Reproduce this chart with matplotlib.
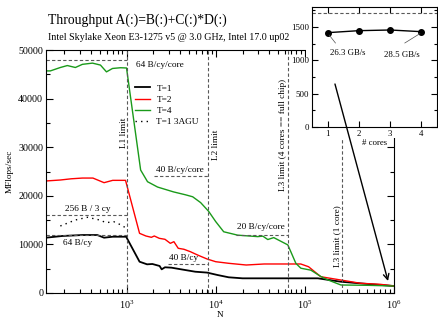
import numpy as np
import matplotlib
matplotlib.use("Agg")
import matplotlib.pyplot as plt
from matplotlib.patches import Rectangle
from matplotlib.ticker import LogLocator, MultipleLocator

plt.rcParams['font.family'] = ['Liberation Serif', 'DejaVu Serif']
plt.rcParams['mathtext.fontset'] = 'custom'
plt.rcParams['mathtext.rm'] = 'Liberation Serif'
plt.rcParams['mathtext.it'] = 'Liberation Serif:italic'

# vector length N and MFlops/sec for each thread count
n_t4 = [125, 140, 181, 217, 267, 320, 415, 510, 596, 696, 857, 1000, 1440, 1720,
        2230, 3370, 4600, 5520, 6780, 8340, 10000, 12300, 17660, 29600, 33800,
        38400, 44800, 64400, 69600, 79300, 90200, 116800, 151000, 181000,
        253600, 510000, 1000000]
mf_t4 = [45700, 45700, 46400, 46800, 46400, 47050, 47300, 46900, 45500, 46200,
         46350, 46300, 25300, 22900, 21800, 20800, 20200, 19800, 18600, 16800,
         14700, 12600, 11900, 11600, 11700, 11000, 11400, 9900, 8500, 6100,
         5100, 4700, 3400, 2700, 1650, 1580, 1440]

n_t2 = [125, 181, 240, 320, 420, 560, 700, 975, 1400, 1650, 1900, 2050, 2330,
        2700, 3100, 3400, 3800, 4400, 5200, 6300, 8000, 10000, 14000, 22000,
        35000, 38000, 65000, 90000, 110000, 151000, 253600, 420000, 700000,
        1000000]
mf_t2 = [23050, 23250, 23500, 23650, 23650, 22700, 23180, 23180, 12280, 11730,
         11460, 11730, 11250, 11050, 10220, 10560, 9200, 9000, 8500, 7800, 7000,
         6440, 6110, 5760, 5970, 5970, 5970, 5970, 5410, 3350, 2670, 2000,
         1790, 1440]

n_t1 = [125, 190, 320, 470, 560, 700, 990, 1400, 1700, 1950, 2350, 2480, 2700,
        3200, 4100, 5900, 8000, 10500, 14000, 20000, 50000, 100000, 140000,
        253600, 510000, 1000000]
mf_t1 = [11380, 11730, 11930, 11930, 11380, 11580, 11580, 6440, 5900, 5970,
         5560, 4870, 5290, 5210, 4870, 4380, 4200, 3700, 3230, 3020, 3020,
         3020, 3020, 2320, 1850, 1440]

n_agu = [181, 267, 365, 500, 590, 720, 870, 1000]
mf_agu = [13790, 15020, 15580, 15020, 14470, 14670, 13990, 13300]

# inset: memory-bound performance vs. number of cores
cores = [1, 2, 3, 4]
mf_mem = [1415, 1445, 1455, 1430]

# cache size limits in N
l1_limit = 1024
l2_limit = 8192
l3_full = 65536
l3_core = 262144

fig = plt.figure(figsize=(4.38, 3.2), dpi=100)
W, H = 438, 320

ax = fig.add_axes([46 / W, (H - 293) / H, (394 - 46) / W, (293 - 50) / H])
ax.set_zorder(1)

ax.plot(n_t1, mf_t1, color='black', lw=1.3, label='T=1')
ax.plot(n_t2, mf_t2, color='#ff0000', lw=1.0, label='T=2')
ax.plot(n_t4, mf_t4, color='#1a9a1a', lw=1.0, label='T=4')
ax.plot(n_agu, mf_agu, color='black', lw=1.0, ls=(0, (1, 3)), label='T=1 3AGU')

ax.set_xscale('log')
ax.set_xlim(125, 1e6)
ax.set_ylim(0, 50000)

dash = dict(color='0.35', lw=0.8, ls=(0, (3, 2)))
ax.axvline(l1_limit, **dash)
ax.axvline(l2_limit, **dash)
ax.axvline(l3_full, **dash)
ax.plot([l3_core, l3_core], [0, 33500], **dash)

ax.plot([125, l1_limit], [48000, 48000], **dash)
ax.plot([125, l1_limit], [16000, 16000], **dash)
ax.plot([125, l1_limit], [12000, 12000], **dash)
ax.plot([2010, l2_limit], [24000, 24000], **dash)
ax.plot([2890, l2_limit], [6000, 6000], **dash)
ax.plot([16800, l3_full], [12000, 12000], **dash)

fs = 6.7
ax.text(1262, 46900, '64 B/cy/core', fontsize=fs, va='center')
ax.text(2120, 25300, '40 B/cy/core', fontsize=fs, va='center')
ax.text(365, 17300, '256 B / 3 cy', fontsize=fs, va='center', ha='center')
ax.text(196, 10300, '64 B/cy', fontsize=fs, va='center')
ax.text(2970, 7200, '40 B/cy', fontsize=fs, va='center')
ax.text(17200, 13600, '20 B/cy/core', fontsize=fs, va='center')

ax.text(930, 33000, 'L1 limit', fontsize=fs, rotation=90, va='center', ha='center')
ax.text(10000, 30500, 'L2 limit', fontsize=fs, rotation=90, va='center', ha='center')
ax.text(57000, 32500, 'L3 limit (4 cores == full chip)', fontsize=fs,
        rotation=90, va='center', ha='center')
ax.text(228000, 11800, 'L3 limit (1 core)', fontsize=fs, rotation=90,
        va='center', ha='center')

ax.xaxis.set_major_locator(LogLocator(base=10))
ax.xaxis.set_minor_locator(LogLocator(base=10, subs=np.arange(2, 10)))
ax.yaxis.set_major_locator(MultipleLocator(10000))
ax.yaxis.set_minor_locator(MultipleLocator(5000))
ax.tick_params(which='both', direction='in', top=True, right=True,
               labelsize=7.2, width=0.8)
ax.tick_params(which='major', length=5)
ax.tick_params(which='minor', length=3)
ax.tick_params(axis='y', pad=2)
ax.tick_params(axis='x', pad=4)
for s in ax.spines.values():
    s.set_linewidth(0.8)
ax.set_xlabel('N', fontsize=fs, labelpad=0)
ax.set_ylabel('MFlops/sec', fontsize=fs, labelpad=3)

ax.legend(loc='upper left', bbox_to_anchor=(135 / W, 1 - 84 / H),
          bbox_transform=fig.transFigure, frameon=False, fontsize=fs,
          handlelength=1.6, handletextpad=0.7, labelspacing=0.3,
          borderpad=0, borderaxespad=0)

fig.text(48 / W, 1 - 20 / H, 'Throughput A(:)=B(:)+C(:)*D(:)', fontsize=9.8,
         va='center', ha='left')
fig.text(48 / W, 1 - 37 / H,
         'Intel Skylake Xeon E3-1275 v5 @ 3.0 GHz, Intel 17.0 up02',
         fontsize=7.2, va='center', ha='left')

# white box behind the inset
box = Rectangle((306 / W, 1 - 138 / H), 1, 1, transform=fig.transFigure,
                facecolor='white', edgecolor='none', zorder=2)
fig.add_artist(box)

ins = fig.add_axes([312 / W, (H - 127) / H, (437 - 312) / W, (127 - 7) / H])
ins.set_zorder(3)
ins.plot(cores, mf_mem, color='black', lw=1.0, marker='o', ms=4)
ins.axhline(1710, **dash)
ins.set_xlim(0.5, 4.5)
ins.set_ylim(0, 1800)
ins.xaxis.set_major_locator(MultipleLocator(1))
ins.yaxis.set_major_locator(MultipleLocator(500))
ins.yaxis.set_minor_locator(MultipleLocator(250))
ins.tick_params(which='both', direction='in', top=True, right=True,
                labelsize=6.3, width=0.8, pad=2)
ins.tick_params(which='major', length=4)
ins.tick_params(which='minor', length=2.5)
for s in ins.spines.values():
    s.set_linewidth(0.8)
ins.set_xlabel('# cores', fontsize=6.3, labelpad=1)

ins.text(1.65, 1110, '26.3 GB/s', fontsize=6.3, ha='center', va='center')
ins.text(3.38, 1080, '28.5 GB/s', fontsize=6.3, ha='center', va='center')
ins.plot([1.05, 1.25], [1380, 1260], color='0.3', lw=0.5)
ins.plot([3.47, 3.95], [1260, 1400], color='0.3', lw=0.5)

ins.annotate('', xy=(857000, 2470), xycoords=ax.transData,
             xytext=(1.235, 645), textcoords=ins.transData,
             arrowprops=dict(arrowstyle='->', color='black', lw=1.0,
                             shrinkA=0, shrinkB=0),
             annotation_clip=False)

fig.savefig('out.png', dpi=100)
